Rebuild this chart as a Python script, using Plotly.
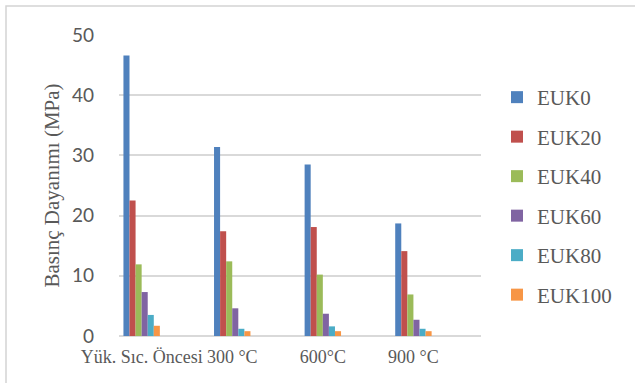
import plotly.graph_objects as go

# Compressive strength (MPa) per exposure condition
categories = ["Yük. Sıc. Öncesi", "300 °C", "600°C", "900 °C"]
series_names = ["EUK0", "EUK20", "EUK40", "EUK60", "EUK80", "EUK100"]
euk0 = [46.6, 31.4, 28.5, 18.7]
euk20 = [22.5, 17.4, 18.1, 14.1]
euk40 = [11.9, 12.4, 10.2, 6.9]
euk60 = [7.3, 4.6, 3.7, 2.7]
euk80 = [3.5, 1.2, 1.6, 1.2]
euk100 = [1.7, 0.8, 0.8, 0.8]

series_values = [euk0, euk20, euk40, euk60, euk80, euk100]
colors = ["#4F81BD", "#C0504D", "#9BBB59", "#8064A2", "#4BACC6", "#F79646"]

SERIF = "Liberation Serif, Times New Roman, serif"

W, H = 635, 383
L, R, T, B = 119, 154, 35, 47
plot_w = W - L - R
plot_h = H - T - B


def px_x(p):
    return (p - L) / plot_w


def px_y(p):
    return (H - B - p) / plot_h


fig = go.Figure()
for name, vals, col in zip(series_names, series_values, colors):
    fig.add_trace(go.Bar(
        x=categories, y=vals, name=name,
        marker=dict(color=col, line=dict(width=0)),
        legendgroup=name,
    ))

# chart frame (left and top edges visible)
fig.add_shape(type="rect", xref="paper", yref="paper",
              x0=px_x(6), x1=px_x(660), y0=px_y(400), y1=px_y(6),
              line=dict(color="#d4d4d4", width=1.5), fillcolor="rgba(0,0,0,0)",
              layer="below")

fig.update_layout(
    width=W, height=H,
    margin=dict(l=L, r=R, t=T, b=B, pad=0),
    paper_bgcolor="white", plot_bgcolor="white",
    barmode="group", bargap=0.598, bargroupgap=0,
    showlegend=True,
    legend=dict(
        x=px_x(497), y=px_y(77), xanchor="left", yanchor="top",
        font=dict(family=SERIF, size=21, color="#595959"),
        traceorder="grouped", tracegroupgap=9.2,
        itemwidth=30, bgcolor="rgba(0,0,0,0)", borderwidth=0,
    ),
    xaxis=dict(
        type="category", range=[-0.25, 3.746],
        showgrid=False, showline=False, zeroline=False, ticks="",
        ticklabelstandoff=8,
        tickfont=dict(family=SERIF, size=18, color="#595959"),
    ),
    yaxis=dict(
        range=[0, 50], dtick=10, tick0=0,
        showgrid=True, gridcolor="#d9d9d9", gridwidth=1.5,
        zeroline=True, zerolinecolor="#d9d9d9", zerolinewidth=2,
        showline=False, ticks="",
        ticklabelstandoff=24,
        tickfont=dict(family="Lato", size=19, color="#595959"),
        title=dict(text="Basınç Dayanımı (MPa)", standoff=6,
                   font=dict(family=SERIF, size=21, color="#595959")),
    ),
)

fig.write_html("out.html")
